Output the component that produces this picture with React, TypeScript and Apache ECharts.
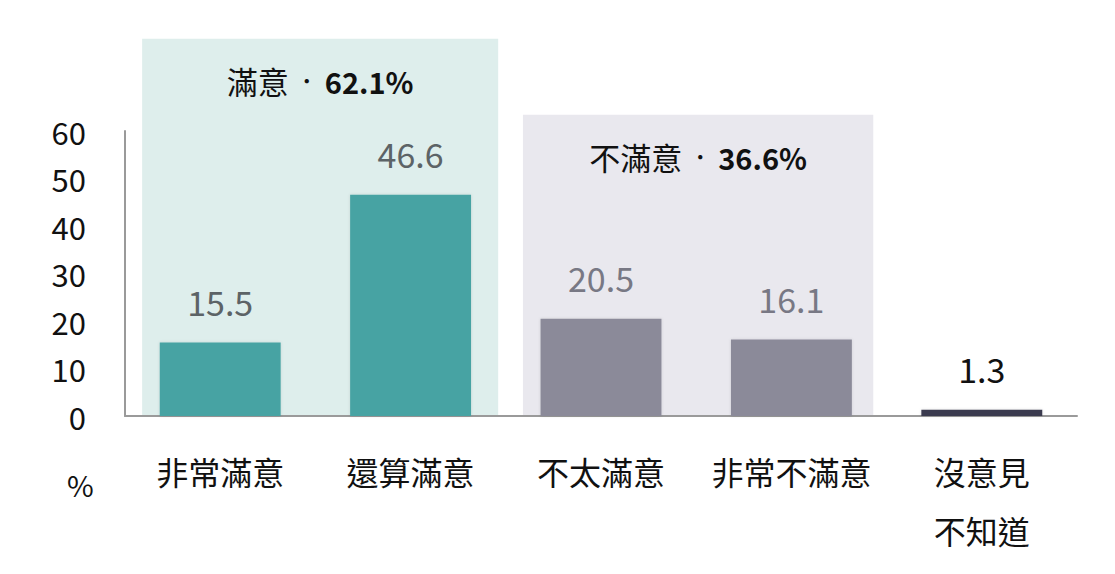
import { useEffect, useRef } from 'react';
import * as echarts from 'echarts';

// categories and values (%)
const categories = ['非常滿意', '還算滿意', '不太滿意', '非常不滿意', '沒意見\n不知道'];
const values = [15.5, 46.6, 20.5, 16.1, 1.3];
const barColors = ['#47a3a3', '#47a3a3', '#8b8a99', '#8b8a99', '#3b3a4f'];
const labelColors = ['#5c6366', '#5c6366', '#787884', '#787884', '#111111'];
const yTicks = [0, 10, 20, 30, 40, 50, 60];

// grouped backgrounds: first category, last category, panel top (in axis units), title parts
const groupFrom = [0, 2];
const groupTo = [1, 3];
const groupTop = [79.4, 63.4];
const groupName = ['滿意', '不滿意'];
const groupTotal = ['62.1%', '36.6%'];
const groupFill = ['#deeeec', '#e9e8ee'];

const FONT = '"Noto Sans CJK TC", "Noto Sans", sans-serif';

export default function App() {
  const ref = useRef<HTMLDivElement | null>(null);

  useEffect(() => {
    document.body.style.margin = '0';
    if (!ref.current) return;
    const chart = echarts.init(ref.current, undefined, { renderer: 'svg' });

    const groupData = groupFrom.map((f, i) => [f, groupTo[i], groupTop[i], i]);

    chart.setOption({
      animation: false,
      grid: { left: 125, right: 38, top: 131, bottom: 158 },
      xAxis: {
        type: 'category',
        data: categories,
        axisLine: { lineStyle: { color: '#9a9a9a', width: 2 } },
        axisTick: { show: false },
        axisLabel: {
          interval: 0,
          color: '#111',
          fontSize: 32,
          fontFamily: FONT,
          margin: 25,
          lineHeight: 59,
        },
      },
      yAxis: {
        type: 'value',
        min: 0,
        max: 60,
        interval: 10,
        axisLine: { show: true, lineStyle: { color: '#9a9a9a', width: 2 } },
        axisTick: { show: false },
        splitLine: { show: false },
        axisLabel: {
          color: '#111',
          fontSize: 31,
          fontFamily: FONT,
          margin: 39,
          formatter: (v: number) => (yTicks.includes(v) ? String(v) : ''),
        },
      },
      graphic: [
        {
          type: 'text',
          left: 67,
          top: 469,
          style: { text: '%', fontSize: 29, fontFamily: FONT, fill: '#111' },
        },
      ],
      series: [
        {
          type: 'custom',
          z: 0,
          silent: true,
          data: groupData,
          renderItem: (_p: unknown, api: any) => {
            const from = api.value(0);
            const to = api.value(1);
            const top = api.value(2);
            const idx = api.value(3);
            const band = api.size([1, 0])[0];
            const p0 = api.coord([from, 0]);
            const p1 = api.coord([to, top]);
            const x0 = p0[0] - band * 0.41;
            const x1 = p1[0] + band * 0.46 - (idx === 1 ? band * 0.03 : 0);
            return {
              type: 'group',
              children: [
                {
                  type: 'rect',
                  shape: { x: x0, y: p1[1], width: x1 - x0, height: p0[1] - p1[1] },
                  style: { fill: groupFill[idx] },
                },
                {
                  type: 'text',
                  x: (x0 + x1) / 2,
                  y: p1[1] + 42,
                  style: {
                    text: `{a|${groupName[idx]}}{c|‧}{b|${groupTotal[idx]}}`,
                    align: 'center',
                    verticalAlign: 'middle',
                    rich: {
                      a: { fontSize: 31, fontFamily: FONT, fill: '#111', fontWeight: 'normal' },
                      c: { fontSize: 20, fontFamily: FONT, fill: '#111', fontWeight: 'normal', padding: [0, 8, 0, 8] },
                      b: { fontSize: 29, fontFamily: FONT, fill: '#111', fontWeight: 'bold' },
                    },
                  },
                },
              ],
            };
          },
        },
        {
          type: 'bar',
          z: 2,
          barWidth: '63.5%',
          data: values.map((v, i) => ({
            value: v,
            itemStyle: {
              color: barColors[i],
              shadowBlur: 3,
              shadowColor: 'rgba(0,0,0,0.12)',
            },
            label: { color: labelColors[i] },
          })),
          label: {
            show: true,
            position: 'top',
            distance: 24,
            fontSize: 34,
            fontFamily: FONT,
          },
        },
      ],
    });

    const handleResize = () => chart.resize();
    window.addEventListener('resize', handleResize);
    return () => {
      window.removeEventListener('resize', handleResize);
      chart.dispose();
    };
  }, []);

  return <div ref={ref} style={{ width: 1115, height: 574 }} />;
}
